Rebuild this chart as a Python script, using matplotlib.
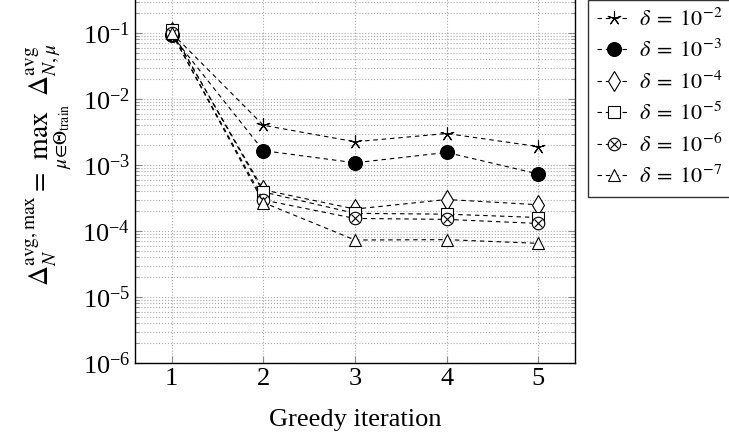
import matplotlib
matplotlib.use("Agg")
import matplotlib.pyplot as plt
import numpy as np
from matplotlib.lines import Line2D
from matplotlib.legend_handler import HandlerTuple

plt.rcParams['font.family'] = ['Liberation Serif', 'DejaVu Serif']
plt.rcParams['mathtext.fontset'] = 'stix'

# data
iterations = [1, 2, 3, 4, 5]
deltas = ['10^{-2}', '10^{-3}', '10^{-4}', '10^{-5}', '10^{-6}', '10^{-7}']
err_1e2 = [0.100, 4.0e-3, 2.25e-3, 3.0e-3, 1.9e-3]
err_1e3 = [0.093, 1.65e-3, 1.08e-3, 1.55e-3, 7.3e-4]
err_1e4 = [0.105, 4.2e-4, 2.15e-4, 3.0e-4, 2.5e-4]
err_1e5 = [0.110, 3.9e-4, 1.85e-4, 1.8e-4, 1.6e-4]
err_1e6 = [0.100, 2.95e-4, 1.55e-4, 1.5e-4, 1.3e-4]
err_1e7 = [0.100, 2.7e-4, 7.3e-5, 7.4e-5, 6.5e-5]
series = [err_1e2, err_1e3, err_1e4, err_1e5, err_1e6, err_1e7]

# marker styles for each series
styles = [
    dict(marker=(5, 2, 0), markersize=10, markerfacecolor='none', markeredgewidth=0.8),
    dict(marker='o', markersize=10, markerfacecolor='black', markeredgewidth=0.8),
    dict(marker='d', markersize=10, markerfacecolor='white', markeredgewidth=0.8),
    dict(marker='s', markersize=9, markerfacecolor='white', markeredgewidth=0.8),
    dict(marker='o', markersize=9, markerfacecolor='white', markeredgewidth=0.8),
    dict(marker='^', markersize=9, markerfacecolor='white', markeredgewidth=0.8),
]

fig = plt.figure(figsize=(7.29, 4.36), dpi=100)
ax = fig.add_axes([135 / 729, 73 / 436, 440 / 729, 396 / 436])

handles = []
for vals, st, d in zip(series, styles, deltas):
    ln, = ax.plot(iterations, vals, color='black', linestyle='--', dashes=(4, 3.5),
                  linewidth=0.8, markeredgecolor='black', **st)
    h = [ln]
    if d == '10^{-6}':
        # circle with a cross inside
        ax.plot(iterations, vals, linestyle='none', marker='x', markersize=6,
                markeredgecolor='black', markeredgewidth=0.8)
        h.append(Line2D([], [], linestyle='none', marker='x', markersize=6,
                        markeredgecolor='black', markeredgewidth=0.8))
    handles.append(tuple(h) if len(h) > 1 else h[0])

ax.set_yscale('log')
ax.set_ylim(1e-6, 1e0)
ax.set_xlim(0.6, 5.4)
ax.set_xticks(iterations)
ax.set_yticks([1e-6, 1e-5, 1e-4, 1e-3, 1e-2, 1e-1])

ax.grid(True, which='major', linestyle=':', color='#aaaaaa', linewidth=0.8)
ax.grid(True, which='minor', axis='y', linestyle=':', color='#aaaaaa', linewidth=0.8)
ax.tick_params(which='both', direction='in', top=True, right=True, labelsize=19,
               color='#888888')
ax.tick_params(which='major', length=5)
ax.tick_params(which='minor', length=3)
for s in ax.spines.values():
    s.set_linewidth(1.0)

ax.set_xlabel('Greedy iteration', fontsize=19, labelpad=14)
ax.set_ylabel(r'$\Delta_N^{\mathrm{avg,max}} = \max_{\mu\in\Theta_{\mathrm{train}}}\ \Delta_{N,\mu}^{\mathrm{avg}}$',
              fontsize=20, labelpad=6)

labels = [r'$\delta\;=\;%s$' % d for d in deltas]
leg = fig.legend(handles, labels, loc='upper left', bbox_to_anchor=(588 / 729, 1.0),
                 frameon=True, fancybox=False, edgecolor='black', fontsize=16,
                 handlelength=1.5, handletextpad=0.4, labelspacing=0.4,
                 borderpad=0.4, borderaxespad=0,
                 handler_map={tuple: HandlerTuple(ndivide=1, pad=0)})
leg.get_frame().set_linewidth(1.0)

fig.savefig('out.png', dpi=100)
